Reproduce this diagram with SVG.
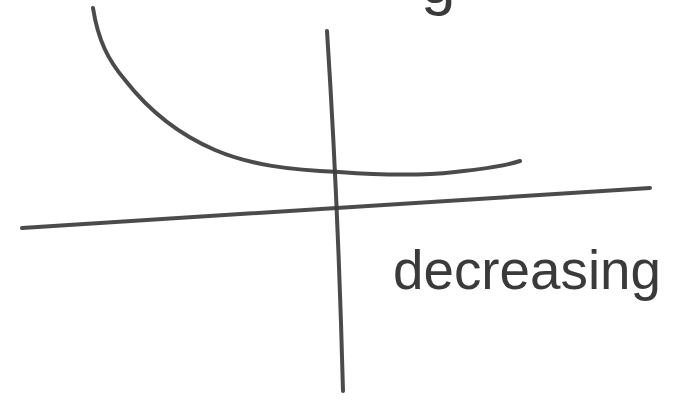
<svg xmlns="http://www.w3.org/2000/svg" width="686" height="407" viewBox="0 0 686 407">
<style>
.pen{fill:none;stroke:#3c3c3c;stroke-width:4;stroke-linecap:round;stroke-linejoin:round;opacity:0.92}
.hand{font-family:"Liberation Sans","DejaVu Sans",sans-serif;fill:#3a3a3a}
</style>
<rect width="686" height="407" fill="#ffffff"/>
<g id="axes">
<path id="y-axis" class="pen" d="M327,31 Q338,200 343,391"/>
<path id="x-axis" class="pen" d="M22,228 L650,188"/>
</g>
<g id="curve">
<path class="pen" d="M93,8 C98,40 108,60 125,80 C150,112 180,135 215,150 C250,165 290,170 339,172 C380,175 420,176 455,172 C485,169 505,166 520,161"/>
</g>
<g id="labels">
<text class="hand" x="421" y="3" font-size="62">g</text>
<text class="hand" x="393" y="289" font-size="55" textLength="268" lengthAdjust="spacingAndGlyphs">decreasing</text>
</g>
</svg>
